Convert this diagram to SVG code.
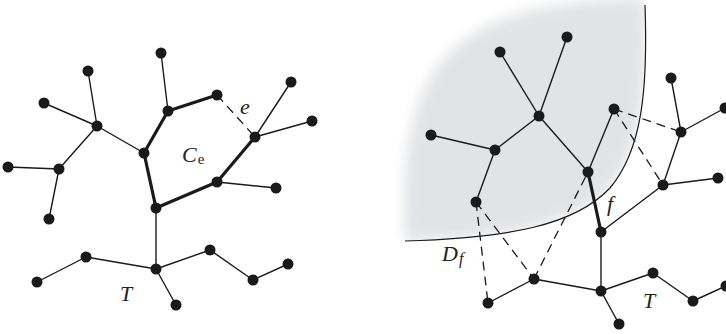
<svg xmlns="http://www.w3.org/2000/svg" width="726" height="334" viewBox="0 0 726 334">
<style>
.e{stroke:#1a1a1a;stroke-width:1.4;fill:none;stroke-linecap:round}
.t{stroke:#1a1a1a;stroke-width:3.2;fill:none;stroke-linecap:round}
.d{stroke:#1a1a1a;stroke-width:1.3;fill:none;stroke-dasharray:9 6}
.n circle{fill:#1a1a1a}
.lbl{font-family:"Liberation Serif",serif;font-style:italic;font-size:22px;fill:#222}
.sub{font-family:"Liberation Serif",serif;font-style:normal;font-size:15px;fill:#222}
.subi{font-family:"Liberation Serif",serif;font-style:italic;font-size:16px;fill:#222}
</style>
<defs>
<filter id="blur" filterUnits="userSpaceOnUse" x="340" y="-60" width="360" height="360">
<feGaussianBlur stdDeviation="6.5"/>
</filter>
<clipPath id="clipD">
<path d="M645,-20 L645,5 C648,90 642,150 610,188 C575,225 510,238 405,241 L360,241 L360,-20 Z"/>
</clipPath>
</defs>
<g id="region-Df">
<g clip-path="url(#clipD)">
<path d="M645,5 C648,90 642,150 610,188 C575,225 510,238 405,241 C398,70 440,2 645,-2 Z" fill="#e2e3e5" filter="url(#blur)"/>
<path d="M650,0 L650,5 C653,90 647,152 614,191 C579,230 510,246 405,246 L405,241 C510,238 575,225 610,188 C642,150 648,90 645,5 Z" fill="#e2e3e5"/>
</g>
<path d="M645,5 C648,90 642,150 610,188 C575,225 510,238 405,241" fill="none" stroke="#1a1a1a" stroke-width="1.2"/>
</g>
<g id="connectors">
<line class="e" x1="88" y1="71" x2="97" y2="126"/>
<line class="e" x1="44" y1="103" x2="97" y2="126"/>
<line class="e" x1="97" y1="126" x2="144" y2="153"/>
<line class="e" x1="97" y1="126" x2="59" y2="169"/>
<line class="e" x1="8" y1="167" x2="59" y2="169"/>
<line class="e" x1="59" y1="169" x2="49" y2="219"/>
<line class="e" x1="161" y1="53" x2="168" y2="111"/>
<line class="t" x1="168" y1="111" x2="217" y2="95"/>
<line class="t" x1="168" y1="111" x2="144" y2="153"/>
<line class="t" x1="144" y1="153" x2="156" y2="208"/>
<line class="t" x1="156" y1="208" x2="217" y2="182"/>
<line class="t" x1="217" y1="182" x2="255" y2="137"/>
<line class="e" x1="255" y1="137" x2="291" y2="82"/>
<line class="e" x1="255" y1="137" x2="312" y2="121"/>
<line class="e" x1="217" y1="182" x2="276" y2="188"/>
<line class="e" x1="156" y1="208" x2="156" y2="269"/>
<line class="e" x1="156" y1="269" x2="86" y2="257"/>
<line class="e" x1="86" y1="257" x2="37" y2="282"/>
<line class="e" x1="156" y1="269" x2="210" y2="250"/>
<line class="e" x1="210" y1="250" x2="253" y2="280"/>
<line class="e" x1="253" y1="280" x2="288" y2="264"/>
<line class="e" x1="156" y1="269" x2="176" y2="305"/>
<line class="d" x1="217" y1="95" x2="255" y2="137"/>

<line class="e" x1="500" y1="52" x2="539" y2="116"/>
<line class="e" x1="567" y1="37" x2="539" y2="116"/>
<line class="e" x1="539" y1="116" x2="495" y2="150"/>
<line class="e" x1="431" y1="135" x2="495" y2="150"/>
<line class="e" x1="495" y1="150" x2="476" y2="202"/>
<line class="e" x1="539" y1="116" x2="588" y2="172"/>
<line class="e" x1="614" y1="109" x2="588" y2="172"/>
<line class="t" x1="588" y1="172" x2="601" y2="232"/>
<line class="e" x1="601" y1="232" x2="663" y2="185"/>
<line class="e" x1="663" y1="185" x2="681" y2="132"/>
<line class="e" x1="681" y1="132" x2="671" y2="78"/>
<line class="e" x1="681" y1="132" x2="725" y2="108"/>
<line class="e" x1="663" y1="185" x2="718" y2="178"/>
<line class="e" x1="601" y1="232" x2="601" y2="291"/>
<line class="e" x1="601" y1="291" x2="534" y2="279"/>
<line class="e" x1="534" y1="279" x2="488" y2="303"/>
<line class="e" x1="601" y1="291" x2="653" y2="273"/>
<line class="e" x1="653" y1="273" x2="693" y2="301"/>
<line class="e" x1="693" y1="301" x2="726" y2="286"/>
<line class="e" x1="601" y1="291" x2="619" y2="324"/>
<line class="d" x1="476" y1="202" x2="488" y2="303"/>
<line class="d" x1="476" y1="202" x2="534" y2="279"/>
<line class="d" x1="534" y1="279" x2="588" y2="172"/>
<line class="d" x1="614" y1="109" x2="681" y2="132"/>
<line class="d" x1="614" y1="109" x2="663" y2="185"/>
</g>
<g class="n">
<g id="L1"><circle cx="88" cy="71" r="5.5"/></g>
<g id="L2"><circle cx="161" cy="53" r="5.5"/></g>
<g id="L3"><circle cx="44" cy="103" r="5.5"/></g>
<g id="L4"><circle cx="97" cy="126" r="5.5"/></g>
<g id="L5"><circle cx="168" cy="111" r="5.5"/></g>
<g id="L6"><circle cx="144" cy="153" r="5.5"/></g>
<g id="L7"><circle cx="8" cy="167" r="5.5"/></g>
<g id="L8"><circle cx="59" cy="169" r="5.5"/></g>
<g id="L9"><circle cx="217" cy="95" r="5.5"/></g>
<g id="L10"><circle cx="291" cy="82" r="5.5"/></g>
<g id="L11"><circle cx="312" cy="121" r="5.5"/></g>
<g id="L12"><circle cx="255" cy="137" r="5.5"/></g>
<g id="L13"><circle cx="217" cy="182" r="5.5"/></g>
<g id="L14"><circle cx="276" cy="188" r="5.5"/></g>
<g id="L15"><circle cx="49" cy="219" r="5.5"/></g>
<g id="L16"><circle cx="156" cy="208" r="5.5"/></g>
<g id="L17"><circle cx="156" cy="269" r="5.5"/></g>
<g id="L18"><circle cx="86" cy="257" r="5.5"/></g>
<g id="L19"><circle cx="37" cy="282" r="5.5"/></g>
<g id="L20"><circle cx="210" cy="250" r="5.5"/></g>
<g id="L21"><circle cx="253" cy="280" r="5.5"/></g>
<g id="L22"><circle cx="288" cy="264" r="5.5"/></g>
<g id="L23"><circle cx="176" cy="305" r="5.5"/></g>
<g id="R1"><circle cx="567" cy="37" r="5.5"/></g>
<g id="R2"><circle cx="500" cy="52" r="5.5"/></g>
<g id="R3"><circle cx="539" cy="116" r="5.5"/></g>
<g id="R4"><circle cx="431" cy="135" r="5.5"/></g>
<g id="R5"><circle cx="495" cy="150" r="5.5"/></g>
<g id="R6"><circle cx="476" cy="202" r="5.5"/></g>
<g id="R7"><circle cx="588" cy="172" r="5.5"/></g>
<g id="R8"><circle cx="614" cy="109" r="5.5"/></g>
<g id="R9"><circle cx="671" cy="78" r="5.5"/></g>
<g id="R10"><circle cx="725" cy="108" r="5.5"/></g>
<g id="R11"><circle cx="681" cy="132" r="5.5"/></g>
<g id="R12"><circle cx="663" cy="185" r="5.5"/></g>
<g id="R13"><circle cx="718" cy="178" r="5.5"/></g>
<g id="R14"><circle cx="601" cy="232" r="5.5"/></g>
<g id="R15"><circle cx="653" cy="273" r="5.5"/></g>
<g id="R16"><circle cx="601" cy="291" r="5.5"/></g>
<g id="R17"><circle cx="693" cy="301" r="5.5"/></g>
<g id="R18"><circle cx="726" cy="286" r="5.5"/></g>
<g id="R19"><circle cx="619" cy="324" r="5.5"/></g>
<g id="R20"><circle cx="534" cy="279" r="5.5"/></g>
<g id="R21"><circle cx="488" cy="303" r="5.5"/></g>
</g>
<g id="labels">
<text class="lbl" x="245" y="114" text-anchor="middle">e</text>
<text class="lbl" x="182" y="162">C<tspan class="sub" dx="1" dy="2">e</tspan></text>
<text class="lbl" x="126" y="301" text-anchor="middle">T</text>
<text class="lbl" x="610" y="211" text-anchor="middle">f</text>
<text class="lbl" x="442" y="261">D<tspan class="subi" dx="1" dy="3">f</tspan></text>
<text class="lbl" x="649" y="308" text-anchor="middle">T</text>
</g>
</svg>
